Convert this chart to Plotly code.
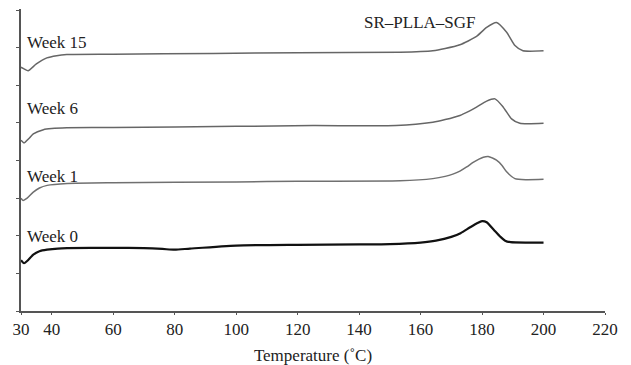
import plotly.graph_objects as go

# Temperature (°C) and heat-flow (arbitrary, offset) values
t_w0 = [30, 31, 32, 34, 36, 38.5, 42, 45, 60, 70, 76, 80, 85, 100, 120, 140, 150, 160, 165, 170, 173, 176, 178.5, 180, 181.5, 183.8, 186, 187.5, 189.3, 195, 200]
y_w0 = [1.35, 1.27, 1.33, 1.50, 1.59, 1.63, 1.66, 1.67, 1.68, 1.67, 1.65, 1.63, 1.66, 1.74, 1.76, 1.77, 1.78, 1.82, 1.87, 1.97, 2.07, 2.22, 2.34, 2.39, 2.36, 2.16, 1.97, 1.87, 1.83, 1.82, 1.82]

t_w1 = [30, 30.7, 32, 34, 36, 38.5, 45, 60, 100, 120, 153.3, 164, 168, 170.5, 172.8, 175, 177.1, 179, 180.4, 182, 184.7, 186.5, 188, 190.7, 194.4, 200]
y_w1 = [3.00, 2.94, 3.00, 3.16, 3.27, 3.34, 3.39, 3.41, 3.43, 3.45, 3.46, 3.52, 3.58, 3.64, 3.72, 3.83, 3.95, 4.04, 4.09, 4.11, 4.01, 3.87, 3.70, 3.52, 3.49, 3.50]

t_w6 = [30, 31, 32.5, 34, 37.3, 40, 44.9, 60, 100, 125, 152, 164, 168, 172.8, 175.5, 178.2, 181.5, 184.2, 186.9, 189.6, 192.3, 200]
y_w6 = [4.54, 4.47, 4.58, 4.71, 4.82, 4.85, 4.87, 4.88, 4.91, 4.93, 4.93, 5.02, 5.09, 5.20, 5.30, 5.42, 5.58, 5.64, 5.42, 5.11, 4.99, 4.99]

t_w15 = [30, 31, 32.3, 35, 38.4, 41.6, 44.9, 60, 92.5, 120, 153.3, 164, 168, 172.8, 175.5, 178.2, 181.5, 184.7, 188, 190.7, 193.3, 200]
y_w15 = [6.48, 6.44, 6.39, 6.57, 6.73, 6.79, 6.82, 6.83, 6.85, 6.87, 6.88, 6.92, 6.98, 7.08, 7.18, 7.30, 7.54, 7.67, 7.41, 7.06, 6.92, 6.92]

series_names = ["Week 0", "Week 1", "Week 6", "Week 15"]
label_x = [31.3, 31.3, 31.3, 31.3]
label_y = [1.99, 3.58, 5.38, 7.14]
x_ticks = [30, 40, 60, 80, 100, 120, 140, 160, 180, 200, 220]
y_ticks = [0, 1, 2, 3, 4, 5, 6, 7, 8]

FONT = "Liberation Serif, Times New Roman, serif"

fig = go.Figure()
curves = [(t_w0, y_w0, "#111111", 2.2), (t_w1, y_w1, "#707070", 1.5),
          (t_w6, y_w6, "#666666", 1.5), (t_w15, y_w15, "#666666", 1.5)]
for (tx, ty, col, w), name in zip(curves, series_names):
    fig.add_trace(go.Scatter(x=tx, y=ty, mode="lines", name=name,
                             line=dict(color=col, width=w, shape="spline", smoothing=0.6),
                             showlegend=False))

for name, lx, ly in zip(series_names, label_x, label_y):
    fig.add_annotation(x=lx, y=ly, xref="x", yref="y", text=name, showarrow=False,
                       xanchor="left", yanchor="middle",
                       font=dict(family=FONT, size=17, color="#222222"))

fig.add_annotation(x=159.8, y=7.67, xref="x", yref="y", text="SR\u2013PLLA\u2013SGF",
                   showarrow=False, xanchor="center", yanchor="middle",
                   font=dict(family=FONT, size=17, color="#222222"))

fig.update_layout(
    width=631, height=365,
    margin=dict(l=21, r=26, t=9, b=54, autoexpand=False),
    paper_bgcolor="white", plot_bgcolor="white",
    font=dict(family=FONT, size=17, color="#222222"),
)
fig.update_xaxes(range=[30, 220], tickvals=x_ticks, ticktext=[str(v) for v in x_ticks],
                 showgrid=False, zeroline=False, showline=True, linecolor="#555555",
                 linewidth=1.5, ticks="outside", ticklen=2, tickcolor="#555555",
                 automargin=False,
                 tickfont=dict(family=FONT, size=17, color="#222222"),
                 title=dict(text="Temperature (\u02daC)", standoff=12,
                            font=dict(family=FONT, size=17, color="#222222")))
fig.update_yaxes(range=[0, 8.03], tickvals=y_ticks, showticklabels=False,
                 showgrid=False, zeroline=False, showline=True, linecolor="#555555",
                 linewidth=1.5, ticks="outside", ticklen=3, tickcolor="#555555",
                 automargin=False)

fig.write_html("out.html", config={"displayModeBar": False},
               post_script="document.body.style.margin='0';document.body.style.overflow='hidden';")
